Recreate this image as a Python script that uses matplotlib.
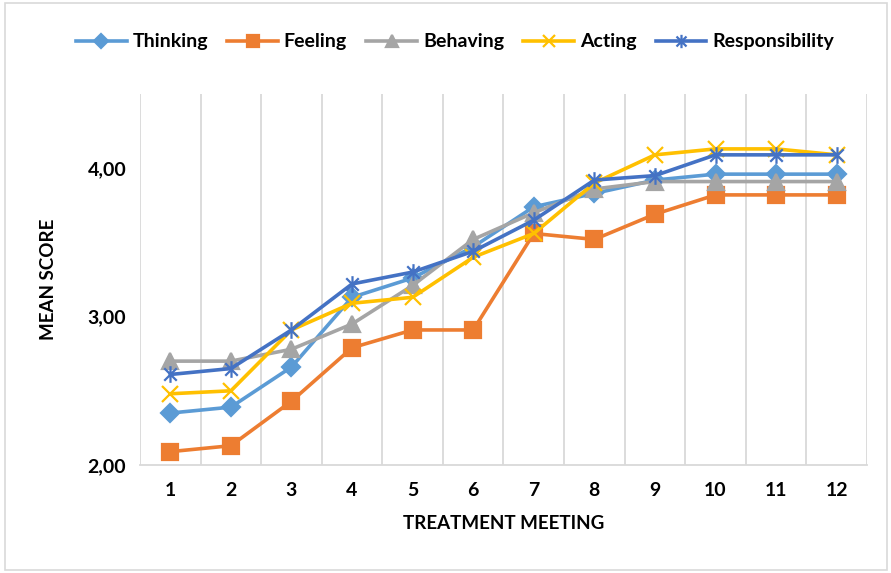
import numpy as np
import matplotlib
matplotlib.use('Agg')
import matplotlib.pyplot as plt
from matplotlib.path import Path
from matplotlib.patches import Rectangle

plt.rcParams['font.family'] = ['Lato', 'DejaVu Sans']
plt.rcParams['font.weight'] = 'bold'
plt.rcParams['axes.labelweight'] = 'bold'

meetings = ['1', '2', '3', '4', '5', '6', '7', '8', '9', '10', '11', '12']
thinking = [2.35, 2.39, 2.66, 3.13, 3.26, 3.47, 3.74, 3.83, 3.92, 3.96, 3.96, 3.96]
feeling = [2.09, 2.13, 2.43, 2.79, 2.91, 2.91, 3.56, 3.52, 3.69, 3.82, 3.82, 3.82]
behaving = [2.70, 2.70, 2.78, 2.95, 3.21, 3.52, 3.70, 3.86, 3.91, 3.91, 3.91, 3.91]
acting = [2.48, 2.50, 2.91, 3.09, 3.13, 3.40, 3.56, 3.90, 4.09, 4.13, 4.13, 4.09]
responsibility = [2.61, 2.65, 2.91, 3.22, 3.30, 3.44, 3.65, 3.92, 3.95, 4.09, 4.09, 4.09]

# excel style asterisk marker
star = Path([(0, -1), (0, 1), (-0.75, -0.75), (0.75, 0.75), (-0.75, 0.75), (0.75, -0.75)],
            [Path.MOVETO, Path.LINETO, Path.MOVETO, Path.LINETO, Path.MOVETO, Path.LINETO])

series = [
    ('Thinking', thinking, '#5B9BD5', 'D', 9),
    ('Feeling', feeling, '#ED7D31', 's', 11),
    ('Behaving', behaving, '#A5A5A5', '^', 11),
    ('Acting', acting, '#FFC000', 'x', 11),
    ('Responsibility', responsibility, '#4472C4', star, 12),
]

fig = plt.figure(figsize=(8.91, 5.73), dpi=100)
ax = fig.add_axes([140 / 891, 1 - 465 / 573, 727 / 891, 371 / 573])

x = np.arange(1, len(meetings) + 1)
for name, vals, color, marker, ms in series:
    ax.plot(x, vals, color=color, lw=2.6, marker=marker, ms=ms,
            mfc=color, mec=color, mew=1.6, label=name)

ax.set_xlim(0.5, len(meetings) + 0.5)
ax.set_ylim(2, 4.5)
ax.set_yticks([2, 3, 4])
ax.set_yticklabels(['2,00', '3,00', '4,00'])
ax.set_xticks(x)
ax.set_xticklabels(meetings)
ax.set_xticks(np.arange(0.5, len(meetings) + 1), minor=True)
ax.grid(True, which='minor', axis='x', color='#d9d9d9', lw=1.3)
ax.tick_params(which='both', length=0, labelsize=14, pad=12)
ax.tick_params(axis='y', pad=10)
for side in ['top', 'right', 'left']:
    ax.spines[side].set_visible(False)
ax.spines['bottom'].set_color('#d9d9d9')
ax.spines['bottom'].set_linewidth(1.3)

ax.set_xlabel('TREATMENT MEETING', fontsize=13.5, labelpad=12)
ax.set_ylabel('MEAN SCORE', fontsize=13.5, labelpad=22)

fig.legend(loc='center', bbox_to_anchor=(455 / 891, 1 - 42 / 573), ncol=5,
           frameon=False, fontsize=14, handlelength=2.6, columnspacing=1.0,
           handletextpad=0.3, markerscale=0.8)

fig.patches.append(Rectangle((5 / 891, 3 / 573), 882 / 891, 567 / 573,
                             transform=fig.transFigure, fill=False,
                             edgecolor='#d9d9d9', lw=1.2))

fig.savefig('out.png', dpi=100)
